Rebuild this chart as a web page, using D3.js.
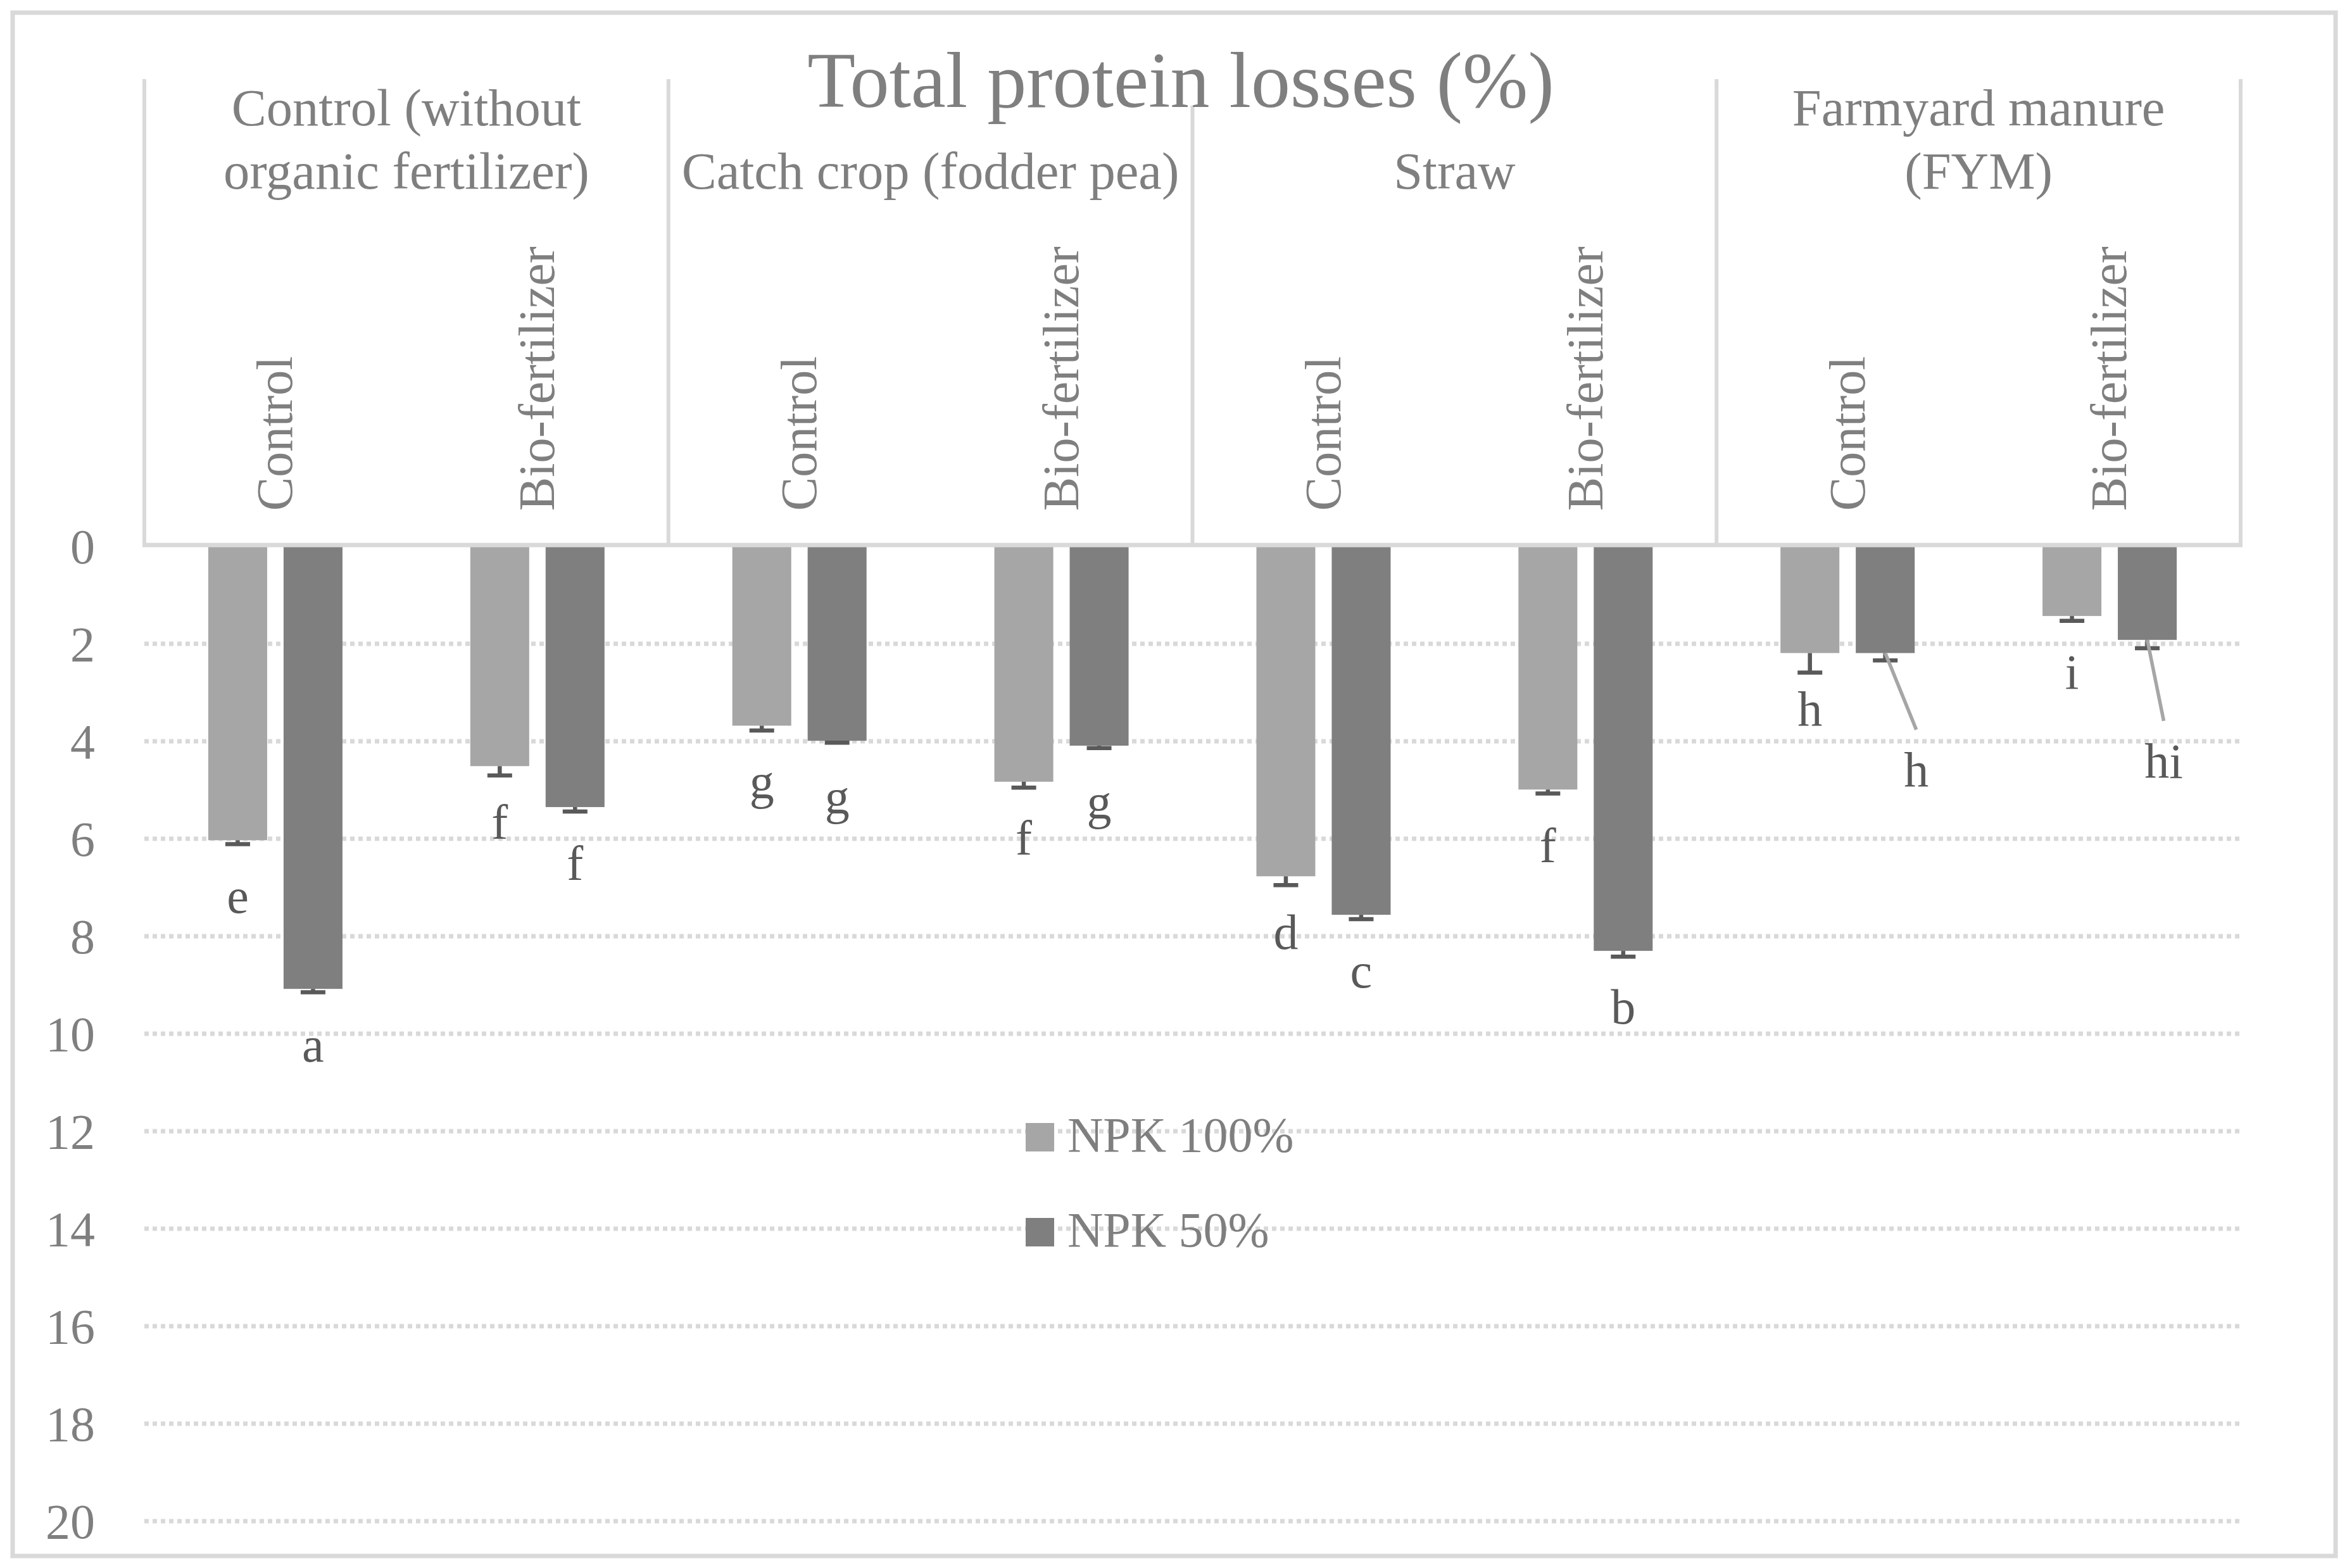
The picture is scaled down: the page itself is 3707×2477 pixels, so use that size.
<!DOCTYPE html>
<html><head><meta charset="utf-8">
<script src="https://cdn.jsdelivr.net/npm/d3@7/dist/d3.min.js"></script>
<style>body{margin:0;background:#fff} svg{display:block}</style>
</head><body>
<svg id="c" width="3707" height="2477"></svg>
<script>
// ---------- data ----------
const title = "Total protein losses (%)";
const groupLabels = [["Control (without", "organic fertilizer)"], ["Catch crop (fodder pea)"], ["Straw"], ["Farmyard manure", "(FYM)"]];
const subLabels = ["Control", "Bio-fertilizer", "Control", "Bio-fertilizer", "Control", "Bio-fertilizer", "Control", "Bio-fertilizer"];
const seriesNames = ["NPK 100%", "NPK 50%"];
const values100 = [6.03, 4.51, 3.68, 4.83, 6.77, 4.99, 2.19, 1.43];
const errors100 = [0.08, 0.19, 0.10, 0.12, 0.18, 0.08, 0.40, 0.10];
const values50  = [9.08, 5.35, 3.99, 4.09, 7.56, 8.30, 2.19, 1.92];
const errors50  = [0.07, 0.09, 0.04, 0.05, 0.09, 0.12, 0.15, 0.17];
const letters100 = ["e", "f", "g", "f", "d", "f", "h", "i"];
const letters50  = ["a", "f", "g", "g", "c", "b", "h", "hi"];
const yTicks = [0, 2, 4, 6, 8, 10, 12, 14, 16, 18, 20];

// ---------- styles / layout ----------
const W = 3707, H = 2477;
const FONT = "'Liberation Serif', 'Times New Roman', serif";
const TXT = "#7f7f7f", LBL = "#595959", GRID = "#d9d9d9";
const colors = ["#a6a6a6", "#7f7f7f"];
const plot = {left: 228, right: 3539, top: 863, bottom: 2403, headTop: 125};
// manual label moves (px) for labels placed with leader lines
const labelMoves = {"1-6": [49, 96], "1-7": [26, 103]};

const svg = d3.select("#c");
svg.append("rect").attr("width", W).attr("height", H).attr("fill", "#fff");
// outer border
svg.append("rect").attr("x", 20).attr("y", 20).attr("width", 3689 - 20).attr("height", 2458 - 20)
  .attr("fill", "none").attr("stroke", GRID).attr("stroke-width", 7);

const cats = d3.range(values100.length);
const x0 = d3.scaleBand().domain(cats).range([plot.left, plot.right]).paddingInner(0).paddingOuter(0);
const cw = x0.bandwidth();
const x1 = d3.scaleBand().domain([0, 1]).range([cw / 2 - 106, cw / 2 + 106]).paddingInner(0.218);
const y = d3.scaleLinear().domain([0, 20]).range([plot.top, plot.bottom]);

// gridlines
svg.append("g").selectAll("line").data(yTicks.filter(d => d > 0)).join("line")
  .attr("x1", plot.left).attr("x2", plot.right)
  .attr("y1", d => y(d)).attr("y2", d => y(d))
  .attr("stroke", GRID).attr("stroke-width", 7).attr("stroke-dasharray", "7,6");

// y axis labels
const yAxis = d3.axisLeft(y).tickValues(yTicks).tickSize(0).tickPadding(0).tickFormat(d3.format("d"));
const gy = svg.append("g").attr("transform", "translate(150,0)").call(yAxis);
gy.select(".domain").remove();
gy.selectAll("text").attr("font-family", FONT).attr("font-size", 78).attr("fill", TXT).attr("dy", "0.34em");

// bars
const seriesVals = [values100, values50];
const seriesErr = [errors100, errors50];
const seriesLet = [letters100, letters50];
const barData = [];
seriesVals.forEach((vals, s) => vals.forEach((v, i) => barData.push({s, i, v, e: seriesErr[s][i], l: seriesLet[s][i]})));
const bx = d => x0(d.i) + x1(d.s);
const bcx = d => bx(d) + x1.bandwidth() / 2;

svg.append("g").selectAll("rect").data(barData).join("rect")
  .attr("x", bx).attr("width", x1.bandwidth())
  .attr("y", y(0)).attr("height", d => y(d.v) - y(0))
  .attr("fill", d => colors[d.s]);

// error bars (minus direction only)
const eg = svg.append("g").attr("stroke", "#595959").attr("stroke-width", 6.5);
eg.selectAll("line.stem").data(barData).join("line").attr("class", "stem")
  .attr("x1", bcx).attr("x2", bcx).attr("y1", d => y(d.v)).attr("y2", d => y(d.v + d.e));
eg.selectAll("line.cap").data(barData).join("line").attr("class", "cap")
  .attr("x1", d => bcx(d) - 19.5).attr("x2", d => bcx(d) + 19.5)
  .attr("y1", d => y(d.v + d.e)).attr("y2", d => y(d.v + d.e));

// letter labels
const lg = svg.append("g");
barData.forEach(d => {
  const mv = labelMoves[d.s + "-" + d.i];
  const lx = bcx(d) + (mv ? mv[0] : 0);
  const ly = y(d.v) + 115 + (mv ? mv[1] : 0);
  if (mv) {
    lg.append("line").attr("x1", bcx(d)).attr("y1", y(d.v)).attr("x2", lx).attr("y2", ly - 90)
      .attr("stroke", "#a6a6a6").attr("stroke-width", 5.5);
  }
  lg.append("text").attr("x", lx).attr("y", ly).attr("text-anchor", "middle")
    .attr("font-family", FONT).attr("font-size", 78).attr("fill", LBL).text(d.l);
});

// header (multi-level category axis)
const hg = svg.append("g").attr("stroke", GRID).attr("stroke-width", 6);
const bounds = [0, 2, 4, 6].map(i => x0(i)).concat([plot.right]);
hg.selectAll("line.v").data(bounds).join("line").attr("class", "v")
  .attr("x1", d => d).attr("x2", d => d).attr("y1", plot.headTop).attr("y2", 864);
hg.append("line").attr("x1", plot.left - 3).attr("x2", plot.right + 3).attr("y1", 861).attr("y2", 861).attr("stroke-width", 7);

// sub-category labels (rotated)
svg.append("g").selectAll("text").data(cats).join("text")
  .attr("transform", i => `translate(${x0(i) + cw / 2},807) rotate(-90)`)
  .attr("dy", "0.33em").attr("font-family", FONT).attr("font-size", 80).attr("fill", TXT)
  .text(i => subLabels[i]);

// group labels
groupLabels.forEach((lines, g) => {
  const cx = (bounds[g] + bounds[g + 1]) / 2;
  const t = svg.append("text").attr("text-anchor", "middle").attr("font-family", FONT)
    .attr("font-size", 82.5).attr("fill", TXT);
  lines.forEach((ln, k) => {
    t.append("tspan").attr("x", cx).attr("y", 298 - (lines.length - 1 - k) * 100).text(ln);
  });
});

// title with white fill
const tg = svg.append("g");
const tt = tg.append("text").attr("x", 1865).attr("y", 169).attr("text-anchor", "middle")
  .attr("font-family", FONT).attr("font-size", 124).attr("fill", TXT).text(title);
const bb = tt.node().getBBox();
tg.insert("rect", "text").attr("x", bb.x).attr("y", bb.y).attr("width", bb.width).attr("height", 167 - bb.y).attr("fill", "#fff");

// legend
const leg = svg.append("g");
seriesNames.forEach((n, s) => {
  const base = 1819 + s * 150;
  leg.append("rect").attr("x", 1620).attr("y", base - 45).attr("width", 45).attr("height", 45).attr("fill", colors[s]);
  leg.append("text").attr("x", 1686).attr("y", base).attr("font-family", FONT).attr("font-size", 78)
    .attr("fill", TXT).text(n);
});
</script>
</body></html>
